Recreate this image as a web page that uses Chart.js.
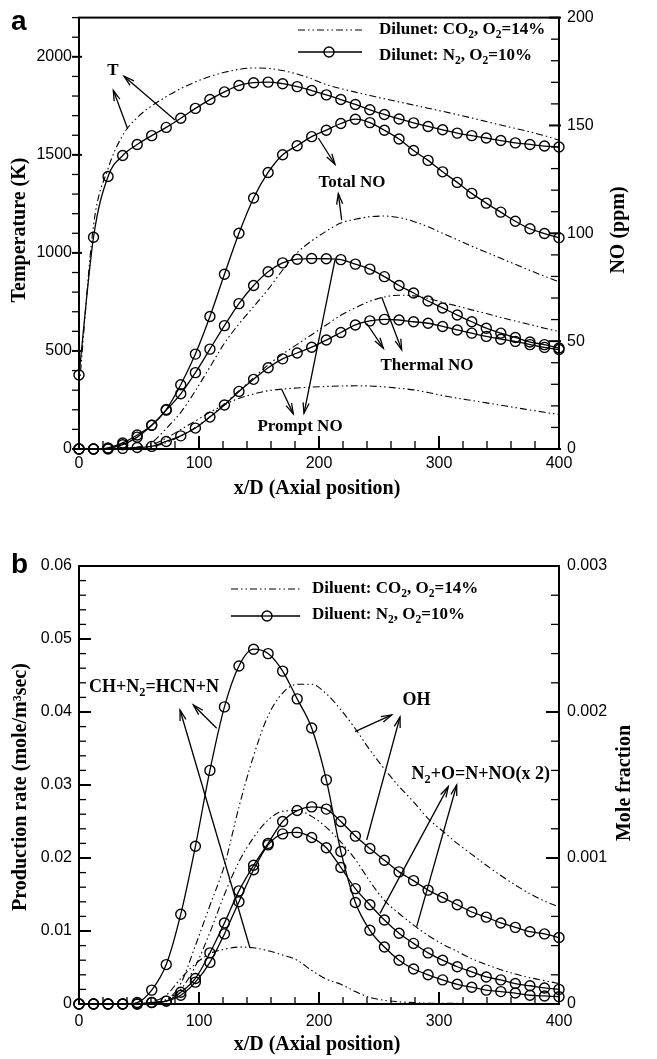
<!DOCTYPE html>
<html><head><meta charset="utf-8">
<script src="https://cdn.jsdelivr.net/npm/chart.js@4.4.0/dist/chart.umd.min.js"></script>
<style>
html,body{margin:0;padding:0;background:#fff;}
#wrapA{position:absolute;left:0;top:0;width:657px;height:520px;}
#wrapB{position:absolute;left:0;top:520px;width:657px;height:539px;}
canvas{display:block;}
</style></head><body>
<div id="wrapA"><canvas id="cA" width="657" height="520"></canvas></div>
<div id="wrapB"><canvas id="cB" width="657" height="539"></canvas></div>
<script>
// ---------- shared axial positions ----------
const xPos = [0,12.1,24.2,36.4,48.5,60.6,72.7,84.8,97,109.1,121.2,133.3,145.5,157.6,169.7,181.8,193.9,206.1,218.2,230.3,242.4,254.5,266.7,278.8,290.9,303,315.2,327.3,339.4,351.5,363.6,375.8,387.9,400];
const xTickLabels = [0,100,200,300,400];

// ---------- panel a ----------
const tempTickLabels = [0,500,1000,1500,2000];
const noTickLabels = [0,50,100,150,200];
const tempCO2 = [300,1140,1430,1600,1690,1750,1797,1838,1872,1900,1921,1936,1943,1941,1930,1912,1888,1858,1838,1820,1803,1786,1770,1754,1738,1722,1705,1688,1670,1652,1635,1617,1598,1575];
const tempN2 = [377,1080,1390,1497,1553,1598,1640,1687,1737,1782,1821,1854,1868,1871,1863,1848,1828,1806,1782,1757,1730,1706,1683,1663,1645,1628,1611,1598,1586,1573,1561,1553,1545,1540];
const totalNoCO2 = [0,0,0,0.2,0.8,3,9.5,17,27,38,49,58,66,74,83,91,96.5,101,104.8,106.5,107.7,108,107.3,105.5,103,100,97,94,91.2,88.4,85.6,82.8,80.1,77.5];
const totalNoN2 = [0,0,0.5,2.8,6.5,11,18.3,29.8,44,61.4,81,100,116.4,128.2,136.4,140.6,144.8,147.8,150.9,152.9,151.3,147.8,143.7,138.4,133.8,128.5,123.6,118.5,114,109.8,105.6,102.1,99.9,97.9];
const thermalNoCO2 = [0,0,0,0,0.3,1,3,6,10,15,21,27,33,39,44,48.5,53,57.5,62,65.5,68.5,70.5,71.3,71,69.8,68,66.3,64.5,62.8,61,59.3,57.7,56,54.5];
const thermalNoN2 = [0,0,0,0.3,0.7,1.2,3.5,6.1,9.7,14.8,20.4,26.7,32.3,37.7,41.8,44.5,47.2,50.5,54,57.5,59.4,60.1,59.8,59,58.3,56.8,55.2,53.7,52.2,50.9,49.9,48.4,47.1,46.1];
const promptNoCO2 = [0,0,0,0,0.5,2,5,9,13,17,20.5,23.5,25.5,27,27.8,28.3,28.7,29,29.2,29.3,29.2,28.8,28.2,27.4,26.2,24.8,23.6,22.5,21.4,20.3,19.2,18.1,17,16];
const promptNoN2 = [0,0,0.3,2,5.5,11,18,25.6,35.4,46.3,57.2,67.4,75.8,82.2,86.3,88,88.3,88.2,87.8,85.7,83.4,79.9,75.8,72.3,68.6,65.4,62.1,59,56,53.7,51.7,49.6,48.4,46.8];

// ---------- panel b ----------
const rateTickLabels = ['0','0.01','0.02','0.03','0.04','0.05','0.06'];
const moleTickLabels = ['0','0.001','0.002','0.003'];
const chCO2 = [0,0,0,0,0,0.0003,0.0012,0.0035,0.0055,0.0069,0.0075,0.0078,0.0077,0.0073,0.0067,0.006,0.0046,0.0034,0.0027,0.0017,0.0009,0.0005,0.0003,0.0002,0.0001,0.0001,0.0001,0,0,0,0,0,0,0];
const chN2 = [0,0,0,0,0.0002,0.0019,0.0054,0.0123,0.0216,0.032,0.0407,0.0463,0.0486,0.048,0.0456,0.0418,0.0378,0.0307,0.0209,0.0139,0.0101,0.0078,0.006,0.0048,0.004,0.0033,0.0027,0.0023,0.0019,0.0017,0.0015,0.0012,0.0011,0.001];
const n2oCO2 = [0,0,0,0,0,0.0001,0.0006,0.002,0.0052,0.0098,0.015,0.0195,0.0228,0.0252,0.0264,0.0265,0.0257,0.0242,0.0222,0.0198,0.0168,0.0142,0.0124,0.0108,0.0094,0.0082,0.0072,0.0062,0.0054,0.0047,0.0041,0.0036,0.0032,0.0028];
const n2oN2 = [0,0,0,0,0,0.0002,0.0004,0.0012,0.003,0.0057,0.0096,0.014,0.0184,0.0218,0.0233,0.0235,0.0228,0.0214,0.0187,0.0158,0.0136,0.0115,0.0097,0.0083,0.007,0.006,0.0051,0.0044,0.0037,0.0033,0.0028,0.0025,0.0022,0.002];
const ohCO2 = [0,0,0,0,0,0,0.000025,0.00014,0.0004,0.000675,0.00095,0.00135,0.0017,0.001975,0.00213,0.00219,0.00219,0.002125,0.002015,0.001885,0.00174,0.00161,0.00149,0.001385,0.00127,0.001185,0.0011,0.001025,0.00095,0.00088,0.000815,0.000755,0.000705,0.000665];
const ohN2 = [0,0,0,0,0,0.00001,0.00002,0.00008,0.000175,0.00035,0.000555,0.000775,0.00095,0.0011,0.00125,0.001325,0.00135,0.001335,0.00125,0.00115,0.001065,0.000985,0.000905,0.000845,0.00078,0.00073,0.00068,0.00063,0.000595,0.000555,0.000525,0.000495,0.00048,0.000455];

// ---------- helpers ----------
const SERIF = '"Liberation Serif","Times New Roman",serif';
const SANS = '"Liberation Sans",Arial,sans-serif';
const DASH = [7,3,1.5,3,1.5,3];
Chart.defaults.font.family = SANS;
Chart.defaults.font.size = 16;
Chart.defaults.color = '#000';

function ser(label, arr, axis, co2) {
  return {
    label, yAxisID: axis,
    data: xPos.map((x, i) => ({x, y: arr[i]})),
    borderColor: '#000', borderWidth: co2 ? 1.1 : 1.3, borderDash: co2 ? DASH : [],
    pointRadius: co2 ? 0 : 5, pointHoverRadius: 0, pointBorderWidth: 1.4,
    pointBorderColor: '#000', pointBackgroundColor: 'rgba(0,0,0,0)',
    fill: false, cubicInterpolationMode: 'monotone', clip: 8
  };
}
function labelFrom(list) {
  return v => { for (const s of list) { if (Math.abs(Number(s) - v) < 1e-9) return String(s); } return ''; };
}
function drawRich(ctx, parts, x, y, size, align) {
  ctx.textBaseline = 'middle'; ctx.textAlign = 'left';
  const fs = m => m ? size * 0.68 : size;
  let w = 0;
  for (const [t, m] of parts) { ctx.font = `bold ${fs(m)}px ${SERIF}`; w += ctx.measureText(t).width; }
  let cx = align === 'center' ? x - w / 2 : x;
  for (const [t, m] of parts) {
    ctx.font = `bold ${fs(m)}px ${SERIF}`;
    ctx.fillText(t, cx, y + (m === 1 ? size * 0.3 : 0));
    cx += ctx.measureText(t).width;
  }
}
function arrow(ctx, x1, y1, x2, y2) {
  ctx.beginPath(); ctx.moveTo(x1, y1); ctx.lineTo(x2, y2); ctx.stroke();
  const a = Math.atan2(y2 - y1, x2 - x1), L = 11, h = 0.28;
  ctx.beginPath();
  ctx.moveTo(x2 - L * Math.cos(a - h), y2 - L * Math.sin(a - h));
  ctx.lineTo(x2, y2);
  ctx.lineTo(x2 - L * Math.cos(a + h), y2 - L * Math.sin(a + h));
  ctx.stroke();
}

const decor = {
  id: 'decor',
  afterDraw(chart, args, o) {
    const ctx = chart.ctx, ca = chart.chartArea;
    ctx.save();
    ctx.strokeStyle = '#000'; ctx.fillStyle = '#000'; ctx.setLineDash([]);
    // ticks (major = labelled)
    for (const id of Object.keys(o.ticks)) {
      const t = o.ticks[id], sc = chart.scales[id];
      sc.ticks.forEach(tk => {
        const major = tk.label !== '' && tk.label != null;
        const [out, inn] = major ? t.major : t.minor;
        const p = sc.getPixelForValue(tk.value);
        ctx.lineWidth = major ? 2 : 1.3;
        ctx.beginPath();
        if (sc.isHorizontal()) {
          ctx.moveTo(p, ca.bottom + out); ctx.lineTo(p, ca.bottom - inn);
        } else if (sc.position === 'left') {
          ctx.moveTo(ca.left - out, p); ctx.lineTo(ca.left + inn, p);
        } else {
          ctx.moveTo(ca.right + out, p); ctx.lineTo(ca.right - inn, p);
        }
        ctx.stroke();
      });
    }
    // frame
    ctx.lineWidth = 2;
    ctx.strokeRect(ca.left, ca.top, ca.right - ca.left, ca.bottom - ca.top);
    // panel letter
    ctx.font = `bold 28px ${SANS}`; ctx.textAlign = 'left'; ctx.textBaseline = 'alphabetic';
    ctx.fillText(o.letter.text, o.letter.x, o.letter.y);
    // axis titles
    for (const t of o.titles) {
      ctx.save(); ctx.translate(t.x, t.y); if (t.rot) ctx.rotate(t.rot);
      drawRich(ctx, t.parts, 0, 0, 20, 'center');
      ctx.restore();
    }
    // legend
    const lg = o.legend;
    lg.rows.forEach(r => {
      ctx.lineWidth = r.co2 ? 1.1 : 1.3;
      ctx.setLineDash(r.co2 ? DASH : []);
      ctx.beginPath(); ctx.moveTo(lg.x1, r.y); ctx.lineTo(lg.x2, r.y); ctx.stroke();
      ctx.setLineDash([]);
      if (!r.co2) {
        ctx.lineWidth = 1.4;
        ctx.fillStyle = '#fff';
        ctx.beginPath(); ctx.arc(lg.cx, r.y, 5, 0, Math.PI * 2); ctx.fill(); ctx.stroke();
        ctx.beginPath(); ctx.moveTo(lg.cx - 5, r.y); ctx.lineTo(lg.cx + 5, r.y); ctx.lineWidth = 1.3; ctx.stroke();
        ctx.fillStyle = '#000';
      }
      drawRich(ctx, r.parts, lg.tx, r.ty, 17, 'left');
    });
    // annotations (data coordinates)
    const sx = chart.scales.x, sy = chart.scales.yL;
    ctx.lineWidth = 1.3;
    for (const a of o.arrows) {
      arrow(ctx, sx.getPixelForValue(a[0]), sy.getPixelForValue(a[1]), sx.getPixelForValue(a[2]), sy.getPixelForValue(a[3]));
    }
    for (const l of o.labels) {
      drawRich(ctx, l.parts, sx.getPixelForValue(l.x), sy.getPixelForValue(l.y), l.size, 'center');
    }
    ctx.restore();
  }
};

function scaleX(bottomH, pad) {
  return {
    type: 'linear', position: 'bottom', min: 0, max: 400,
    ticks: {stepSize: 20, autoSkip: false, maxRotation: 0, padding: pad, callback: labelFrom(xTickLabels), font: {size: 16}},
    grid: {display: false, drawTicks: false}, border: {display: false},
    afterFit(s) { s.height = bottomH; }
  };
}

// ---------- chart a ----------
new Chart(document.getElementById('cA'), {
  type: 'line',
  data: {datasets: [
    ser('T, Dilunet: CO2, O2=14%', tempCO2, 'yL', true),
    ser('T, Dilunet: N2, O2=10%', tempN2, 'yL', false),
    ser('Total NO, CO2', totalNoCO2, 'yR', true),
    ser('Total NO, N2', totalNoN2, 'yR', false),
    ser('Thermal NO, CO2', thermalNoCO2, 'yR', true),
    ser('Thermal NO, N2', thermalNoN2, 'yR', false),
    ser('Prompt NO, CO2', promptNoCO2, 'yR', true),
    ser('Prompt NO, N2', promptNoN2, 'yR', false)
  ]},
  options: {
    responsive: false, animation: false, events: [],
    layout: {padding: {top: 12, left: 0, right: 0, bottom: 0}},
    scales: {
      x: scaleX(71, 5),
      yL: {type: 'linear', position: 'left', min: 0, max: 2200,
        ticks: {stepSize: 100, autoSkip: false, padding: 7, callback: labelFrom(tempTickLabels)},
        grid: {display: false, drawTicks: false}, border: {display: false},
        afterFit(s) { s.width = 79; }},
      yR: {type: 'linear', position: 'right', min: 0, max: 200,
        ticks: {stepSize: 10, autoSkip: false, padding: 8, callback: labelFrom(noTickLabels)},
        grid: {display: false, drawTicks: false}, border: {display: false},
        afterFit(s) { s.width = 98; }}
    },
    plugins: {
      legend: {display: false}, tooltip: {enabled: false},
      decor: {
        ticks: {x: {major: [0, 13], minor: [0, 8]}, yL: {major: [7, 3], minor: [7, 0]}, yR: {major: [2, 10], minor: [0, 8]}},
        letter: {text: 'a', x: 11, y: 30},
        titles: [
          {parts: [['x/D (Axial position)', 0]], x: 317, y: 489},
          {parts: [['Temperature (K)', 0]], x: 20, y: 230, rot: -Math.PI / 2},
          {parts: [['NO (ppm)', 0]], x: 619, y: 230, rot: -Math.PI / 2}
        ],
        legend: {x1: 298, x2: 362, cx: 329, tx: 379, rows: [
          {co2: true, y: 30, ty: 30, parts: [['Dilunet: CO', 0], ['2', 1], [', O', 0], ['2', 1], ['=14%', 0]]},
          {co2: false, y: 52, ty: 56, parts: [['Dilunet: N', 0], ['2', 1], [', O', 0], ['2', 1], ['=10%', 0]]}
        ]},
        labels: [
          {parts: [['T', 0]], x: 28.3, y: 1930, size: 17},
          {parts: [['Total NO', 0]], x: 227.5, y: 1359, size: 17},
          {parts: [['Thermal NO', 0]], x: 290, y: 425, size: 17},
          {parts: [['Prompt NO', 0]], x: 184.2, y: 116, size: 17}
        ],
        arrows: [
          [40.6, 1632, 28.6, 1829], [80, 1678, 37.5, 1901],
          [199.4, 1586, 213.3, 1452], [218.9, 1167, 216.1, 1302],
          [239.8, 640, 253.6, 514], [252.3, 774, 268.9, 506],
          [168.9, 305, 178.6, 179], [213.3, 963, 187.5, 182]
        ]
      }
    }
  },
  plugins: [decor]
});

// ---------- chart b ----------
new Chart(document.getElementById('cB'), {
  type: 'line',
  data: {datasets: [
    ser('CH+N2=HCN+N, CO2', chCO2, 'yL', true),
    ser('CH+N2=HCN+N, N2', chN2, 'yL', false),
    ser('N2+O=N+NO (x2), CO2', n2oCO2, 'yL', true),
    ser('N2+O=N+NO (x2), N2', n2oN2, 'yL', false),
    ser('OH, CO2', ohCO2, 'yR', true),
    ser('OH, N2', ohN2, 'yR', false)
  ]},
  options: {
    responsive: false, animation: false, events: [],
    layout: {padding: {top: 46, left: 0, right: 0, bottom: 0}},
    scales: {
      x: scaleX(55, 8),
      yL: {type: 'linear', position: 'left', min: 0, max: 0.06,
        ticks: {stepSize: 0.002, autoSkip: false, padding: 7, callback: labelFrom(rateTickLabels)},
        grid: {display: false, drawTicks: false}, border: {display: false},
        afterFit(s) { s.width = 79; }},
      yR: {type: 'linear', position: 'right', min: 0, max: 0.003,
        ticks: {stepSize: 0.0002, autoSkip: false, padding: 8, callback: labelFrom(moleTickLabels)},
        grid: {display: false, drawTicks: false}, border: {display: false},
        afterFit(s) { s.width = 98; }}
    },
    plugins: {
      legend: {display: false}, tooltip: {enabled: false},
      decor: {
        ticks: {x: {major: [0, 12], minor: [0, 7]}, yL: {major: [0, 12], minor: [0, 7]}, yR: {major: [0, 13], minor: [0, 8]}},
        letter: {text: 'b', x: 11, y: 53},
        titles: [
          {parts: [['x/D (Axial position)', 0]], x: 317, y: 525},
          {parts: [['Production rate (mole/m³sec)', 0]], x: 21, y: 267, rot: -Math.PI / 2},
          {parts: [['Mole fraction', 0]], x: 625, y: 263, rot: -Math.PI / 2}
        ],
        legend: {x1: 231, x2: 300, cx: 267, tx: 312, rows: [
          {co2: true, y: 69, ty: 69, parts: [['Diluent: CO', 0], ['2', 1], [', O', 0], ['2', 1], ['=14%', 0]]},
          {co2: false, y: 96, ty: 95, parts: [['Diluent: N', 0], ['2', 1], [', O', 0], ['2', 1], ['=10%', 0]]}
        ]},
        labels: [
          {parts: [['CH+N', 0], ['2', 1], ['=HCN+N', 0]], x: 62.5, y: 0.0434, size: 18},
          {parts: [['OH', 0]], x: 281.25, y: 0.0416, size: 18},
          {parts: [['N', 0], ['2', 1], ['+O=N+NO(x 2)', 0]], x: 334.8, y: 0.0314, size: 18}
        ],
        arrows: [
          [114.75, 0.03777, 95.25, 0.04096], [142.5, 0.00767, 84.2, 0.04027],
          [230, 0.0373, 260.6, 0.0396], [239.75, 0.02247, 267.5, 0.03932],
          [250.8, 0.01242, 307.75, 0.02977], [281.4, 0.01059, 314.75, 0.03]
        ]
      }
    }
  },
  plugins: [decor]
});
</script>
</body></html>
